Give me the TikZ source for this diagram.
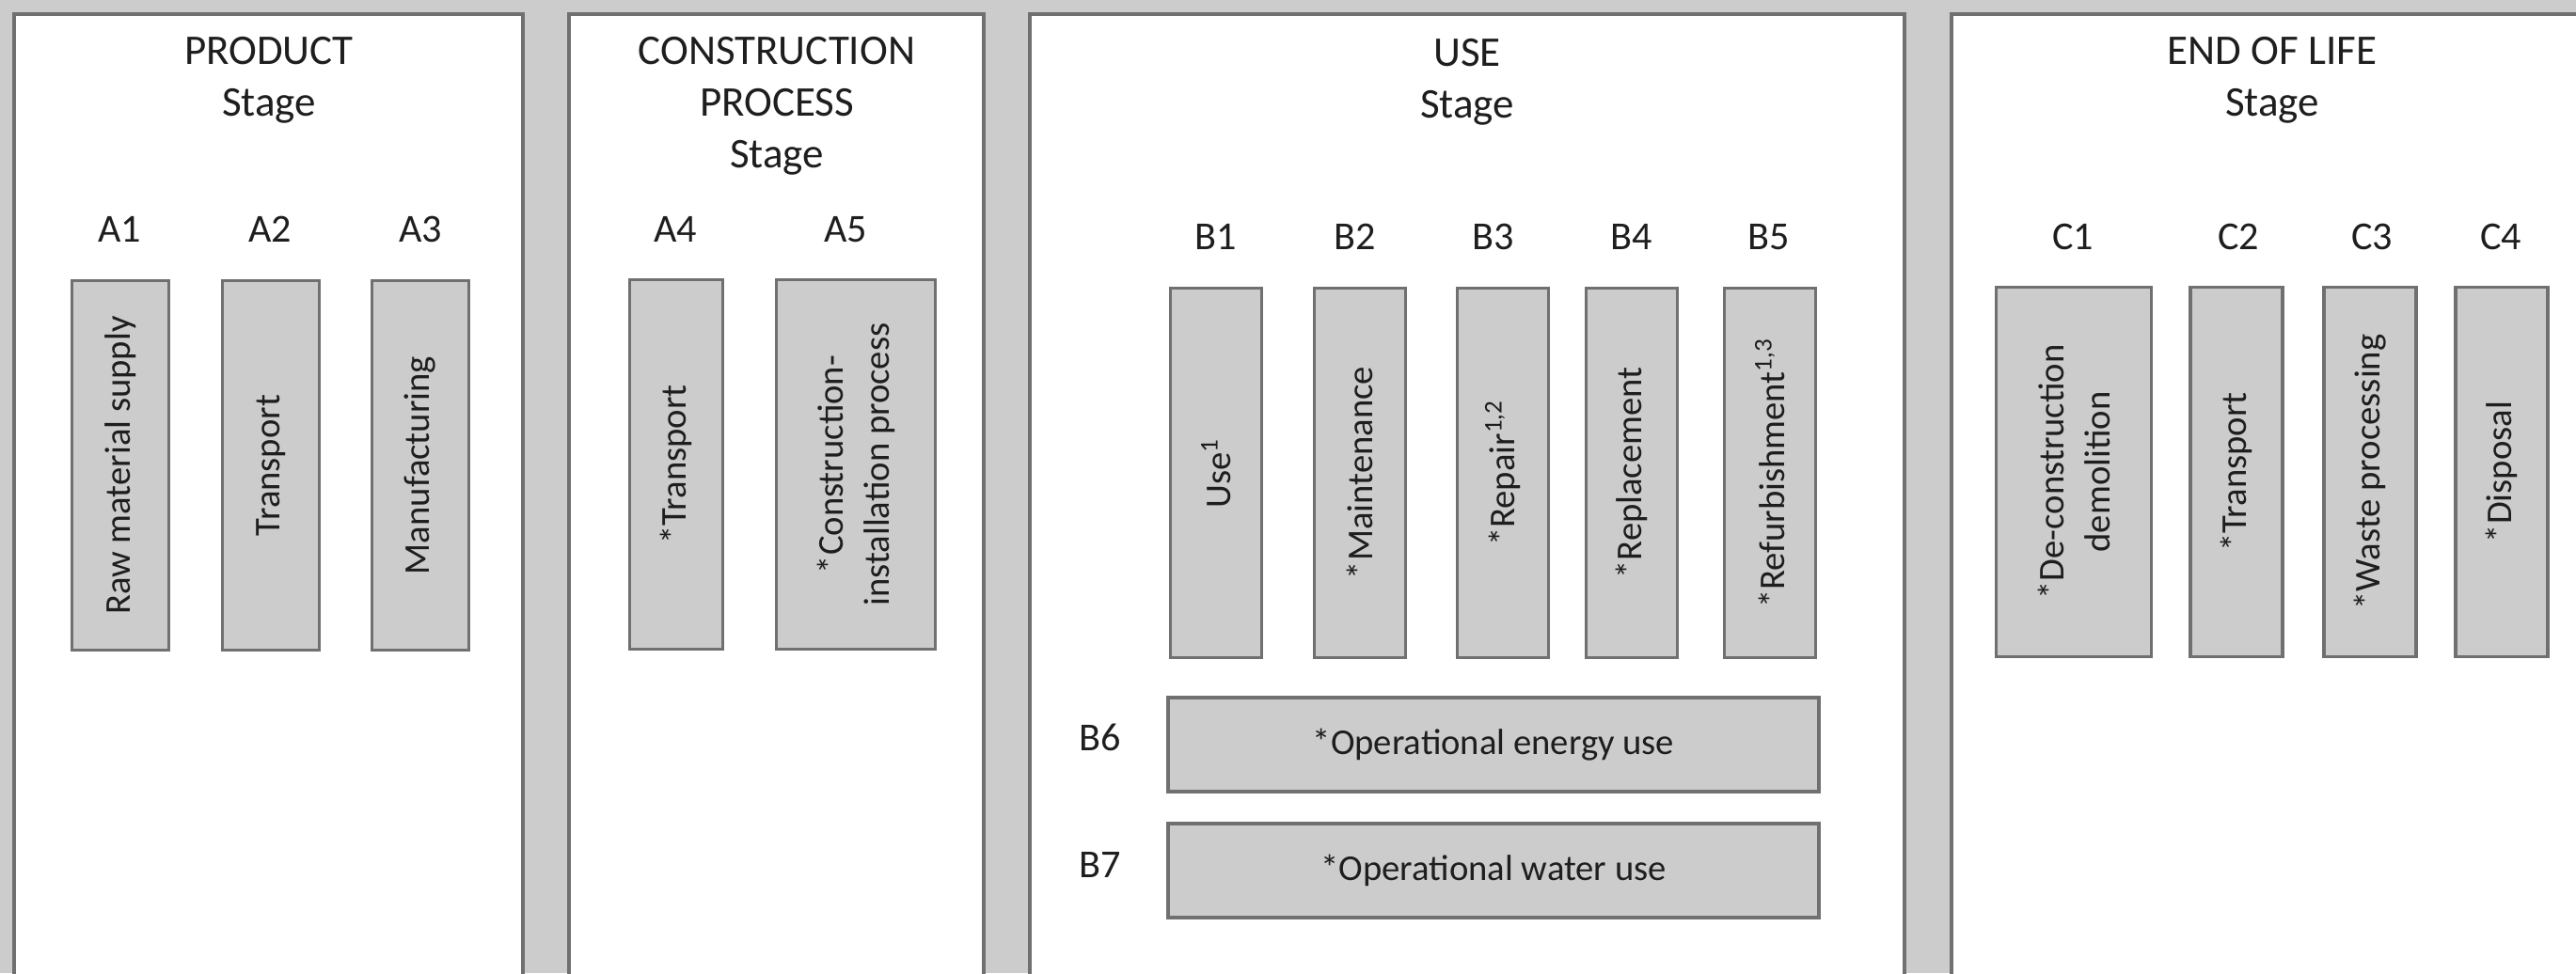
\documentclass[tikz,border=0pt]{standalone}
\usepackage{fontspec}
\setmainfont{Carlito}

\definecolor{stagegray}{HTML}{CCCCCC}
\definecolor{edgegray}{HTML}{707070}
\definecolor{inkgray}{HTML}{1E1E1E}

\begin{document}
\begin{tikzpicture}[
  panel/.style={draw=edgegray, fill=white, line width=1pt},
  title/.style={anchor=north, align=center, inner sep=0pt, text=inkgray, font=\fontsize{12.8}{15.6}\selectfont},
  module/.style={anchor=base, inner sep=0pt, text=inkgray, font=\fontsize{12}{14}\selectfont},
  vbox/.style={draw=edgegray, fill=stagegray, line width=0.9pt, rotate=90, align=center, inner sep=2pt,
    minimum width=3.93cm, minimum height=#1, text=inkgray, font=\fontsize{11}{14}\selectfont},
  vbox/.default=0.98cm,
  hbox/.style={draw=edgegray, fill=stagegray, line width=0.9pt, minimum width=6.92cm, minimum height=1cm,
    text=inkgray, font=\fontsize{11}{14}\selectfont}
]
\fill[stagegray] (0,0) rectangle (27.39,-10.35);
\clip (0,0) rectangle (27.39,-10.35);

% Stage panels
\draw[panel] (0.15,-0.15) rectangle (5.56,-10.6);
\draw[panel] (6.05,-0.15) rectangle (10.46,-10.6);
\draw[panel] (10.95,-0.15) rectangle (20.25,-10.6);
\draw[panel] (20.75,-0.15) rectangle (27.6,-10.6);

\node[title] (product) at (2.86, -0.39) {PRODUCT\\Stage};
\node[title] (construction) at (8.26, -0.39) {CONSTRUCTION\\PROCESS\\Stage};
\node[title] (use) at (15.60, -0.41) {USE\\Stage};
\node[title] (eol) at (24.16, -0.39) {END OF LIFE\\Stage};

% Product stage
\node[module] (lA1) at (1.27, -2.57) {A1};
\node[module] (lA2) at (2.87, -2.57) {A2};
\node[module] (lA3) at (4.47, -2.57) {A3};
\node[vbox=1.03cm] (A1) at (1.28, -4.95) {Raw material supply};
\node[vbox=1.03cm] (A2) at (2.88, -4.95) {Transport};
\node[vbox=1.03cm] (A3) at (4.47, -4.95) {Manufacturing};

% Construction process stage
\node[module] (lA4) at (7.18, -2.57) {A4};
\node[module] (lA5) at (8.99, -2.57) {A5};
\node[vbox=0.99cm] (A4) at (7.19, -4.94) {*Transport};
\node[vbox=1.69cm] (A5) at (9.10, -4.94) {*Construction-\\installation process};

% Use stage
\node[module] (lB1) at (12.93, -2.65) {B1};
\node[module] (lB2) at (14.41, -2.65) {B2};
\node[module] (lB3) at (15.88, -2.65) {B3};
\node[module] (lB4) at (17.35, -2.65) {B4};
\node[module] (lB5) at (18.81, -2.65) {B5};
\node[vbox=0.97cm] (B1) at (12.93, -5.03) {Use\textsuperscript{1}};
\node[vbox=0.97cm] (B2) at (14.46, -5.03) {*Maintenance};
\node[vbox=0.97cm] (B3) at (15.98, -5.03) {*Repair\textsuperscript{1,2}};
\node[vbox=0.97cm] (B4) at (17.35, -5.03) {*Replacement};
\node[vbox=0.97cm] (B5) at (18.82, -5.03) {*Refurbishment\textsuperscript{1,3}};
\node[module] (lB6) at (11.70, -7.98) {B6};
\node[module] (lB7) at (11.70, -9.33) {B7};
\node[hbox] (B6) at (15.88, -7.92) {*Operational energy use};
\node[hbox] (B7) at (15.88, -9.26) {*Operational water use};

% End of life stage
\node[module] (lC1) at (22.04, -2.65) {C1};
\node[module] (lC2) at (23.80, -2.65) {C2};
\node[module] (lC3) at (25.22, -2.65) {C3};
\node[module] (lC4) at (26.59, -2.65) {C4};
\node[vbox=1.65cm] (C1) at (22.05, -5.02) {*De-construction\\demolition};
\node[vbox=0.98cm] (C2) at (23.78, -5.02) {*Transport};
\node[vbox=0.98cm] (C3) at (25.20, -5.02) {*Waste processing};
\node[vbox=0.98cm] (C4) at (26.60, -5.02) {*Disposal};
\end{tikzpicture}
\end{document}
